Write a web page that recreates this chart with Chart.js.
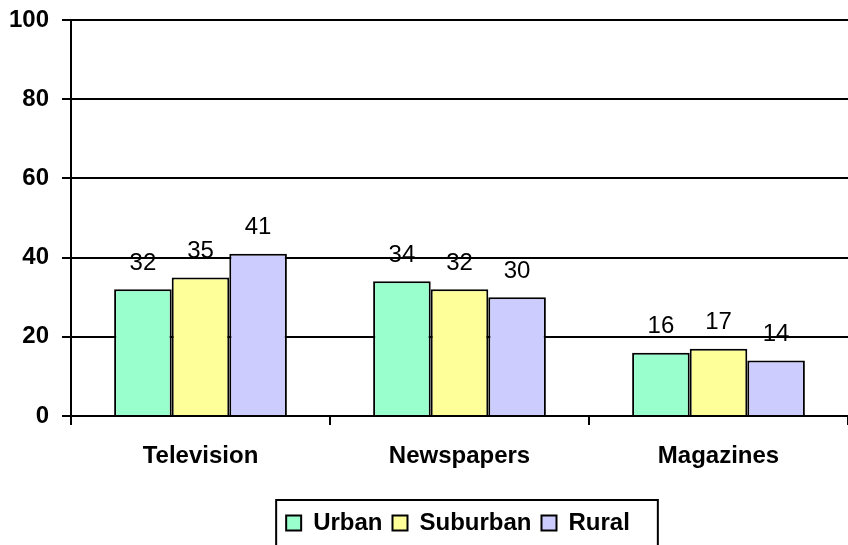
<!DOCTYPE html>
<html>
<head>
<meta charset="utf-8">
<script src="https://cdn.jsdelivr.net/npm/chart.js@4"></script>
<style>
  html, body { margin: 0; padding: 0; background: #fff; }
  #wrap { width: 848px; height: 545px; }
</style>
</head>
<body>
<div id="wrap"><canvas id="grafico"></canvas></div>
<script>
// Dados
const categorias = ['Television', 'Newspapers', 'Magazines'];
const urbano = [32, 34, 16];
const suburbano = [35, 32, 17];
const rural = [41, 30, 14];
const ticksY = [0, 20, 40, 60, 80, 100];

const fonte = '"Liberation Sans", Arial, sans-serif';

// rótulos de valor em cima das barras
const rotulos = {
  id: 'rotulos',
  afterDatasetsDraw(chart) {
    const ctx = chart.ctx;
    ctx.save();
    ctx.font = '24px ' + fonte;
    ctx.fillStyle = '#000';
    ctx.textAlign = 'center';
    ctx.textBaseline = 'middle';
    chart.data.datasets.forEach((ds, i) => {
      chart.getDatasetMeta(i).data.forEach((bar, j) => {
        ctx.fillText(ds.data[j], bar.x, bar.y - 26);
      });
    });
    ctx.restore();
  },
};

// legenda um pouco à direita do centro, com moldura
const DESLOCA_LEGENDA = 34;
const molduraLegenda = {
  id: 'molduraLegenda',
  afterLayout(chart) {
    const lg = chart.legend;
    lg.left += DESLOCA_LEGENDA;
    lg.right += DESLOCA_LEGENDA;
    (lg.legendHitBoxes || []).forEach(b => { b.left += DESLOCA_LEGENDA; });
  },
  afterDraw(chart) {
    const boxes = chart.legend.legendHitBoxes;
    if (!boxes || !boxes.length) return;
    const first = boxes[0];
    const last = boxes[boxes.length - 1];
    const ctx = chart.ctx;
    ctx.save();
    ctx.strokeStyle = '#000';
    ctx.lineWidth = 2;
    ctx.strokeRect(first.left - 10, 500, last.left + last.width - first.left + 38, 60);
    ctx.restore();
  },
};

new Chart(document.getElementById('grafico').getContext('2d'), {
  type: 'bar',
  data: {
    labels: categorias,
    datasets: [
      { label: 'Urban', data: urbano, backgroundColor: '#99FFCC', borderColor: '#000', borderWidth: 2 },
      { label: 'Suburban', data: suburbano, backgroundColor: '#FFFF99', borderColor: '#000', borderWidth: 2 },
      { label: 'Rural', data: rural, backgroundColor: '#CCCCFF', borderColor: '#000', borderWidth: 2 },
    ],
  },
  options: {
    responsive: true,
    maintainAspectRatio: false,
    animation: false,
    layout: { padding: { top: 20, left: 0, right: 0, bottom: 0 } },
    datasets: { bar: { categoryPercentage: 0.667, barPercentage: 1 } },
    plugins: {
      tooltip: { enabled: false },
      legend: {
        position: 'bottom',
        labels: {
          font: { family: fonte, size: 24, weight: 'bold' },
          color: '#000',
          boxWidth: 15,
          boxHeight: 15,
          padding: 10,
        },
      },
    },
    scales: {
      x: {
        grid: { display: true, drawOnChartArea: false, drawTicks: true, tickLength: 9, color: '#000', lineWidth: 2 },
        border: { color: '#000', width: 2 },
        ticks: { font: { family: fonte, size: 24, weight: 'bold' }, color: '#000', padding: 17 },
        afterFit(scale) { scale.height = 85; },
      },
      y: {
        min: 0,
        max: 100,
        afterBuildTicks(scale) { scale.ticks = ticksY.map(v => ({ value: v })); },
        grid: { color: '#000', lineWidth: 2, tickLength: 9 },
        border: { color: '#000', width: 2 },
        ticks: { font: { family: fonte, size: 24, weight: 'bold' }, color: '#000', padding: 13 },
        afterFit(scale) {
          scale.width = 71;
          scale.paddingTop = 0;
          scale.paddingBottom = 0;
        },
      },
    },
  },
  plugins: [rotulos, molduraLegenda],
});
</script>
</body>
</html>
